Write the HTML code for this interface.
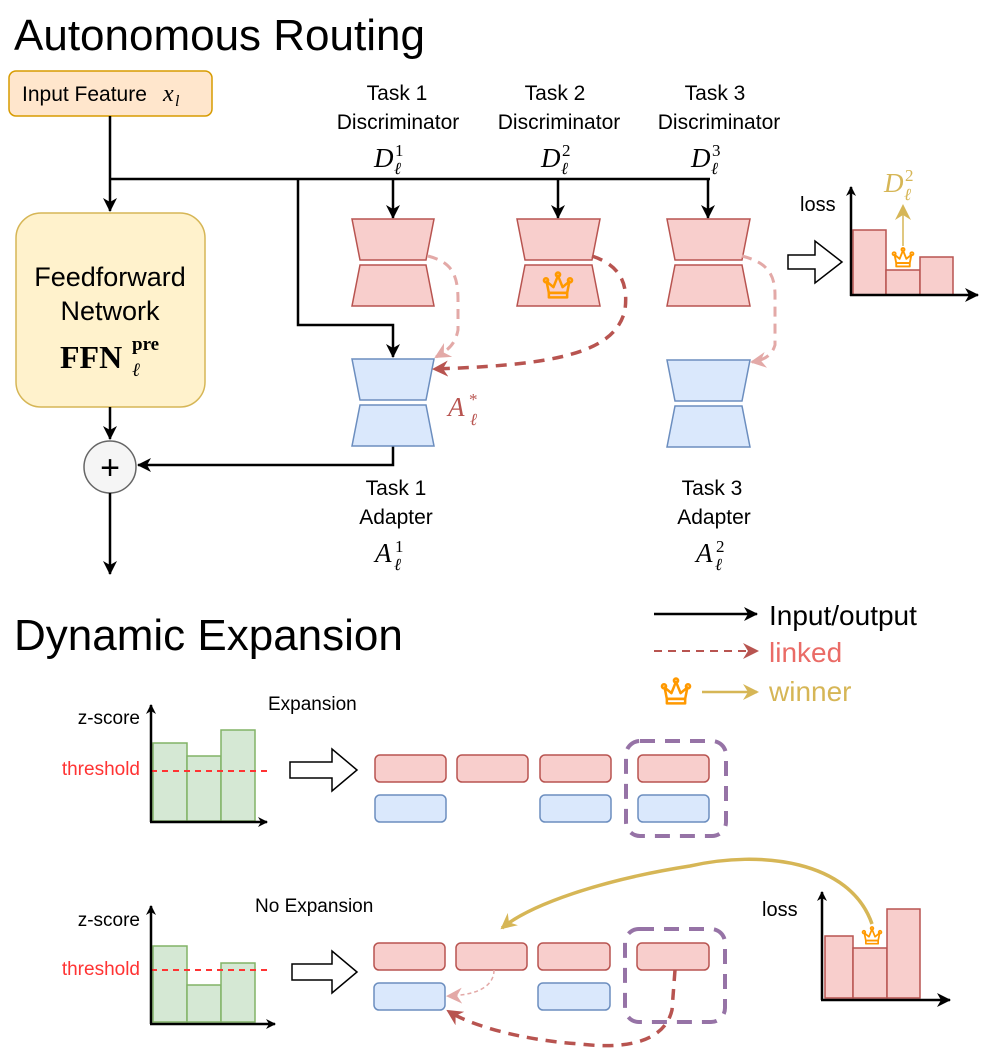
<!DOCTYPE html>
<html><head><meta charset="utf-8"><style>
html,body{margin:0;padding:0;background:#fff}
svg{display:block}
text{font-family:"Liberation Sans",sans-serif}
text.m,.m text{font-family:"Liberation Serif",serif;font-style:italic}
text.s{font-family:"Liberation Serif",serif;font-style:normal}
text.n,.m text.n{font-family:"Liberation Serif",serif;font-style:normal}
</style></head><body>
<svg width="997" height="1052" viewBox="0 0 997 1052" xmlns="http://www.w3.org/2000/svg">
<defs>
<marker id="ab" markerWidth="10" markerHeight="10" refX="9" refY="5" orient="auto" markerUnits="userSpaceOnUse"><path d="M0,0 L10,5 L0,10 L3,5 Z" fill="#000"/></marker>
<marker id="ab2" markerWidth="14" markerHeight="14" refX="13" refY="7" orient="auto" markerUnits="userSpaceOnUse"><path d="M0,0 L14,7 L0,14 L4,7 Z" fill="#000"/></marker>
<marker id="ar" markerWidth="16" markerHeight="16" refX="14" refY="8" orient="auto" markerUnits="userSpaceOnUse"><path d="M0,0 L16,8 L0,16 L5,8 Z" fill="#b85450"/></marker>
<marker id="arl" markerWidth="16" markerHeight="16" refX="14" refY="8" orient="auto" markerUnits="userSpaceOnUse"><path d="M0,0 L16,8 L0,16 L5,8 Z" fill="#e3a9a7"/></marker>
<marker id="ag" markerWidth="16" markerHeight="16" refX="14" refY="8" orient="auto" markerUnits="userSpaceOnUse"><path d="M0,0 L16,8 L0,16 L5,8 Z" fill="#d6b656"/></marker>
<symbol id="crown" viewBox="-13 -15 26 28" overflow="visible">
<g fill="none" stroke="#ff9900" stroke-width="2.2" stroke-linejoin="round">
<path d="M-8,5 L-10,-5 L-4,0 L0,-10 L4,0 L10,-5 L8,5 Z"/>
<rect x="-8" y="5" width="16" height="4"/>
<circle cx="-10.5" cy="-6" r="1.8"/><circle cx="0" cy="-11" r="1.8"/><circle cx="10.5" cy="-6" r="1.8"/>
</g></symbol>
</defs>

<text x="14" y="50" font-size="44">Autonomous Routing</text>
<rect x="9" y="71" width="203" height="45" rx="7" fill="#ffe6cc" stroke="#d79b00" stroke-width="1.5"/>
<text x="22" y="101" font-size="21">Input Feature</text>
<g class="m"><text x="163" y="101" font-size="24">x</text><text x="175" y="106" font-size="16">l</text></g>

<line x1="110" y1="116" x2="110" y2="211" stroke="#000" stroke-width="2.5" marker-end="url(#ab2)"/>
<line x1="110" y1="179" x2="710" y2="179" stroke="#000" stroke-width="2.5"/>
<rect x="16" y="213" width="189" height="194" rx="25" fill="#fff2cc" stroke="#d6b656" stroke-width="1.5"/>
<text x="110" y="286" font-size="27" text-anchor="middle">Feedforward</text>
<text x="110" y="320" font-size="27" text-anchor="middle">Network</text>
<text x="60" y="368" font-size="32" class="s" font-weight="bold">FFN</text>
<text x="132" y="350" font-size="19" class="s" font-weight="bold">pre</text>
<text x="132" y="376" font-size="19" class="m">ℓ</text>
<line x1="110" y1="407" x2="110" y2="439" stroke="#000" stroke-width="2.5" marker-end="url(#ab2)"/>
<circle cx="110" cy="467" r="26" fill="#f5f5f5" stroke="#666" stroke-width="1.5"/>
<text x="110" y="479" font-size="34" text-anchor="middle">+</text>
<line x1="110" y1="493" x2="110" y2="574" stroke="#000" stroke-width="2.5" marker-end="url(#ab2)"/>

<polyline points="298,179 298,325 393,325 393,357" fill="none" stroke="#000" stroke-width="2.5" marker-end="url(#ab2)"/>
<line x1="393" y1="179" x2="393" y2="218" stroke="#000" stroke-width="2.5" marker-end="url(#ab2)"/>
<line x1="558" y1="179" x2="558" y2="218" stroke="#000" stroke-width="2.5" marker-end="url(#ab2)"/>
<line x1="708" y1="179" x2="708" y2="218" stroke="#000" stroke-width="2.5" marker-end="url(#ab2)"/>
<polyline points="393,446 393,465 138,465" fill="none" stroke="#000" stroke-width="2.5" marker-end="url(#ab2)"/>

<g fill="#f8cecc" stroke="#b85450" stroke-width="1.5">
<path d="M352,219 L434,219 L426,260 L360,260 Z"/><path d="M360,265 L426,265 L434,306 L352,306 Z"/>
<path d="M517,219 L600,219 L592,260 L525,260 Z"/><path d="M525,265 L592,265 L600,306 L517,306 Z"/>
<path d="M667,219 L750,219 L742,260 L675,260 Z"/><path d="M675,265 L742,265 L750,306 L667,306 Z"/>
</g>
<g fill="#dae8fc" stroke="#6c8ebf" stroke-width="1.5">
<path d="M352,359 L434,359 L426,400 L360,400 Z"/><path d="M360,405 L426,405 L434,446 L352,446 Z"/>
<path d="M667,360 L750,360 L742,401 L675,401 Z"/><path d="M675,406 L742,406 L750,447 L667,447 Z"/>
</g>
<use href="#crown" x="543" y="270" width="30" height="32"/>

<path d="M428,256 C450,262 458,272 458,300 L458,330 C455,345 448,350 436,357" fill="none" stroke="#e3a9a7" stroke-width="3" stroke-dasharray="10,7" marker-end="url(#arl)"/>
<path d="M592,256 C622,266 628,285 625,310 C615,352 560,365 434,369" fill="none" stroke="#b85450" stroke-width="3.5" stroke-dasharray="11,8" marker-end="url(#ar)"/>
<path d="M742,256 C765,262 775,272 775,295 L775,345 C772,355 765,360 752,362" fill="none" stroke="#e3a9a7" stroke-width="3" stroke-dasharray="10,7" marker-end="url(#arl)"/>
<g class="m" fill="#b85450"><text x="448" y="416" font-size="27">A</text><text class="n" x="469" y="405" font-size="17">*</text><text x="470" y="425" font-size="17">ℓ</text></g>

<g font-size="21" text-anchor="middle">
<text x="397" y="100">Task 1</text><text x="398" y="129">Discriminator</text>
<text x="555" y="100">Task 2</text><text x="559" y="129">Discriminator</text>
<text x="715" y="100">Task 3</text><text x="719" y="129">Discriminator</text>
<text x="396" y="495">Task 1</text><text x="396" y="524">Adapter</text>
<text x="712" y="495">Task 3</text><text x="714" y="524">Adapter</text>
</g>
<g class="m" font-size="27">
<text x="374" y="167">D</text><text x="394" y="174" font-size="17">ℓ</text><text class="n" x="395" y="156" font-size="17">1</text>
<text x="541" y="167">D</text><text x="561" y="174" font-size="17">ℓ</text><text class="n" x="562" y="156" font-size="17">2</text>
<text x="691" y="167">D</text><text x="711" y="174" font-size="17">ℓ</text><text class="n" x="712" y="156" font-size="17">3</text>
<text x="375" y="562">A</text><text x="394" y="570" font-size="17">ℓ</text><text class="n" x="395" y="552" font-size="17">1</text>
<text x="696" y="562">A</text><text x="715" y="570" font-size="17">ℓ</text><text class="n" x="716" y="552" font-size="17">2</text>
<g fill="#d6b656"><text x="884" y="192">D</text><text x="904" y="200" font-size="17">ℓ</text><text class="n" x="905" y="181" font-size="17">2</text></g>
</g>

<path d="M788,255 L815,255 L815,241 L842,262 L815,283 L815,269 L788,269 Z" fill="#fff" stroke="#000" stroke-width="1.5"/>
<text x="800" y="211" font-size="20">loss</text>
<g fill="#f8cecc" stroke="#b85450" stroke-width="1.5">
<rect x="853" y="230" width="33" height="65"/><rect x="886" y="270" width="34" height="25"/><rect x="920" y="257" width="33" height="38"/>
</g>
<line x1="851" y1="296" x2="851" y2="187" stroke="#000" stroke-width="2.5" marker-end="url(#ab)"/>
<line x1="850" y1="295" x2="978" y2="295" stroke="#000" stroke-width="2.5" marker-end="url(#ab2)"/>
<use href="#crown" x="892" y="246" width="22" height="24"/>
<line x1="903" y1="246" x2="903" y2="206" stroke="#d6b656" stroke-width="1.5" marker-end="url(#ag)"/>

<text x="14" y="650" font-size="44">Dynamic Expansion</text>
<line x1="654" y1="614" x2="757" y2="614" stroke="#000" stroke-width="2.5" marker-end="url(#ab2)"/>
<text x="769" y="625" font-size="28">Input/output</text>
<line x1="654" y1="651" x2="757" y2="651" stroke="#b85450" stroke-width="2" stroke-dasharray="8,6" marker-end="url(#ar)"/>
<text x="769" y="662" font-size="28" fill="#ea6b66">linked</text>
<use href="#crown" x="660" y="676" width="32" height="32"/>
<line x1="702" y1="692" x2="757" y2="692" stroke="#d6b656" stroke-width="2.5" marker-end="url(#ag)"/>
<text x="769" y="701" font-size="28" fill="#d6b656">winner</text>

<text x="140" y="724" font-size="19" text-anchor="end">z-score</text>
<text x="140" y="775" font-size="19" text-anchor="end" fill="#ff3333">threshold</text>
<g fill="#d5e8d4" stroke="#82b366" stroke-width="1.5">
<rect x="153" y="743" width="34" height="78"/><rect x="187" y="756" width="34" height="65"/><rect x="221" y="730" width="34" height="91"/>
</g>
<line x1="151" y1="771" x2="272" y2="771" stroke="#ff3333" stroke-width="2" stroke-dasharray="6,5"/>
<line x1="151" y1="822" x2="151" y2="705" stroke="#000" stroke-width="2.5" marker-end="url(#ab)"/>
<line x1="150" y1="822" x2="267" y2="822" stroke="#000" stroke-width="2.5" marker-end="url(#ab)"/>
<text x="268" y="710" font-size="19">Expansion</text>
<path d="M290,762 L332,762 L332,749 L357,770 L332,791 L332,778 L290,778 Z" fill="#fff" stroke="#000" stroke-width="1.5"/>
<g fill="#f8cecc" stroke="#b85450" stroke-width="1.5">
<rect x="375" y="755" width="71" height="27" rx="5"/><rect x="457" y="755" width="71" height="27" rx="5"/><rect x="540" y="755" width="71" height="27" rx="5"/><rect x="638" y="755" width="71" height="27" rx="5"/>
</g>
<g fill="#dae8fc" stroke="#6c8ebf" stroke-width="1.5">
<rect x="375" y="795" width="71" height="27" rx="5"/><rect x="540" y="795" width="71" height="27" rx="5"/><rect x="638" y="795" width="71" height="27" rx="5"/>
</g>
<rect x="626" y="741" width="100" height="95" rx="14" fill="none" stroke="#9673a6" stroke-width="4" stroke-dasharray="15,10"/>

<text x="140" y="926" font-size="19" text-anchor="end">z-score</text>
<text x="140" y="975" font-size="19" text-anchor="end" fill="#ff3333">threshold</text>
<g fill="#d5e8d4" stroke="#82b366" stroke-width="1.5">
<rect x="153" y="946" width="34" height="76"/><rect x="187" y="985" width="34" height="37"/><rect x="221" y="963" width="34" height="59"/>
</g>
<line x1="151" y1="970" x2="272" y2="970" stroke="#ff3333" stroke-width="2" stroke-dasharray="6,5"/>
<line x1="151" y1="1024" x2="151" y2="906" stroke="#000" stroke-width="2.5" marker-end="url(#ab)"/>
<line x1="150" y1="1024" x2="275" y2="1024" stroke="#000" stroke-width="2.5" marker-end="url(#ab)"/>
<text x="255" y="912" font-size="19">No Expansion</text>
<path d="M292,964 L332,964 L332,951 L357,972 L332,993 L332,980 L292,980 Z" fill="#fff" stroke="#000" stroke-width="1.5"/>
<g fill="#f8cecc" stroke="#b85450" stroke-width="1.5">
<rect x="374" y="943" width="71" height="27" rx="5"/><rect x="456" y="943" width="71" height="27" rx="5"/><rect x="538" y="943" width="72" height="27" rx="5"/><rect x="637" y="943" width="72" height="27" rx="5"/>
</g>
<g fill="#dae8fc" stroke="#6c8ebf" stroke-width="1.5">
<rect x="374" y="983" width="71" height="27" rx="5"/><rect x="538" y="983" width="72" height="27" rx="5"/>
</g>
<rect x="625" y="929" width="100" height="93" rx="14" fill="none" stroke="#9673a6" stroke-width="4" stroke-dasharray="15,10"/>
<path d="M494,970 C494,985 480,995 448,996" fill="none" stroke="#e3a9a7" stroke-width="1.5" stroke-dasharray="4,3" marker-end="url(#arl)"/>
<path d="M675,970 L672,1010 C665,1040 630,1050 580,1044 C520,1040 470,1025 448,1011" fill="none" stroke="#b85450" stroke-width="3.5" stroke-dasharray="11,8" marker-end="url(#ar)"/>

<text x="762" y="916" font-size="20">loss</text>
<g fill="#f8cecc" stroke="#b85450" stroke-width="1.5">
<rect x="825" y="936" width="28" height="62"/><rect x="853" y="948" width="34" height="50"/><rect x="887" y="909" width="33" height="89"/>
</g>
<line x1="822" y1="1000" x2="822" y2="892" stroke="#000" stroke-width="2.5" marker-end="url(#ab)"/>
<line x1="821" y1="1000" x2="950" y2="1000" stroke="#000" stroke-width="2.5" marker-end="url(#ab2)"/>
<use href="#crown" x="862" y="925" width="20" height="22"/>
<path d="M872,924 C850,860 760,850 690,866 C600,880 530,905 502,928" fill="none" stroke="#d6b656" stroke-width="3.5" marker-end="url(#ag)"/>
</svg>
</body></html>
